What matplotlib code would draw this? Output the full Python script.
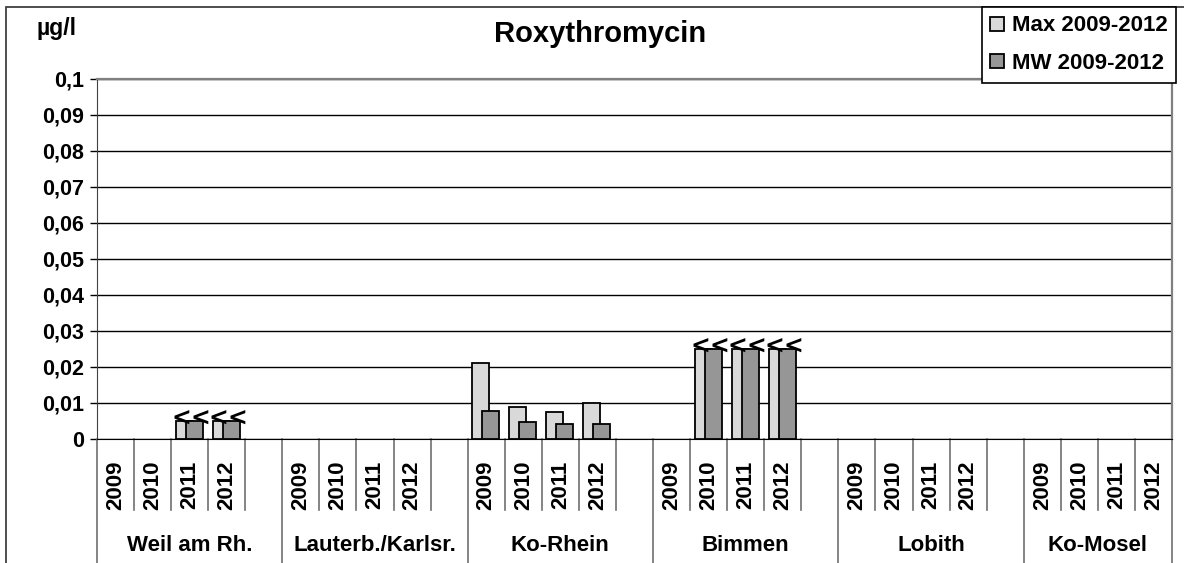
import numpy as np
import matplotlib
matplotlib.use("Agg")
import matplotlib.pyplot as plt
from matplotlib.patches import Rectangle

plt.rcParams['font.family'] = ['Liberation Sans', 'DejaVu Sans']
plt.rcParams['font.weight'] = 'bold'

nan = np.nan

# Daten
title = "Roxythromycin"
unit = "µg/l"
groups = ["Weil am Rh.", "Lauterb./Karlsr.", "Ko-Rhein", "Bimmen", "Lobith", "Ko-Mosel"]
years = ["2009", "2010", "2011", "2012"]
series_names = ["Max 2009-2012", "MW 2009-2012"]

max_vals = [
    [nan, nan, 0.005, 0.005],
    [nan, nan, nan, nan],
    [0.0210, 0.0090, 0.0074, 0.0101],
    [nan, 0.025, 0.025, 0.025],
    [nan, nan, nan, nan],
    [nan, nan, nan, nan],
]
mw_vals = [
    [nan, nan, 0.005, 0.005],
    [nan, nan, nan, nan],
    [0.0078, 0.0048, 0.0043, 0.0043],
    [nan, 0.025, 0.025, 0.025],
    [nan, nan, nan, nan],
    [nan, nan, nan, nan],
]
# "<" = kleiner Bestimmungsgrenze
below_lod = [
    [False, False, True, True],
    [False, False, False, False],
    [False, False, False, False],
    [False, True, True, True],
    [False, False, False, False],
    [False, False, False, False],
]
y_ticks = [0, 0.01, 0.02, 0.03, 0.04, 0.05, 0.06, 0.07, 0.08, 0.09, 0.1]
y_labels = ["0", "0,01", "0,02", "0,03", "0,04", "0,05", "0,06", "0,07", "0,08", "0,09", "0,1"]

W, H = 1184, 563
fig = plt.figure(figsize=(W / 100, H / 100), dpi=100)
ax = fig.add_axes([97 / W, (H - 439) / H, 1075 / W, 360 / H])

# 5 Plaetze pro Messstelle (4 Jahre + Luecke), letzte ohne Luecke
slot = []
for g in range(len(groups)):
    for k in range(len(years)):
        slot.append(g * 5 + k)
slot = np.array(slot)
n_slots = 5 * (len(groups) - 1) + len(years)

mx = np.array(max_vals).ravel()
mw = np.array(mw_vals).ravel()
lod = np.array(below_lod).ravel()

bw = 0.46
b1 = ax.bar(slot + 0.12, mx, width=bw, align='edge', color='#d9d9d9',
            edgecolor='black', linewidth=1.3, label=series_names[0], zorder=3)
b2 = ax.bar(slot + 0.39, mw, width=bw, align='edge', color='#969696',
            edgecolor='black', linewidth=1.3, label=series_names[1], zorder=4)

for i in range(len(slot)):
    if lod[i]:
        ax.text(slot[i] + 0.27, mx[i] - 0.0012, "<", ha='center', va='baseline',
                fontsize=17, fontweight='bold', family='DejaVu Sans', zorder=5)
        ax.text(slot[i] + 0.78, mw[i] - 0.0012, "<", ha='center', va='baseline',
                fontsize=17, fontweight='bold', family='DejaVu Sans', zorder=5)

ax.set_xlim(0, n_slots)
ax.set_ylim(0, 0.1)
ax.set_yticks(y_ticks)
ax.set_yticklabels(y_labels, fontsize=15.5, fontweight='bold')
ax.tick_params(axis='y', direction='out', length=5, width=1, pad=4.5, colors='black')
ax.set_xticks([])
ax.yaxis.grid(True, color='black', linewidth=1)
ax.set_axisbelow(True)

for s in ['top', 'right']:
    ax.spines[s].set_color('#808080')
    ax.spines[s].set_linewidth(1.6)
ax.spines['left'].set_color('#404040')
ax.spines['bottom'].set_color('black')

# Kategorie-Achse mit zwei Ebenen
trans = ax.get_xaxis_transform()
group_edges = [g * 5 for g in range(len(groups))] + [n_slots]
for b in range(n_slots + 1):
    y_end = -0.36 if b in group_edges else -0.197
    ax.plot([b, b], [0, y_end], color='#707070', linewidth=1.2, transform=trans, clip_on=False)

for i in range(len(slot)):
    ax.text(slot[i] + 0.5, -0.128, years[i % len(years)], transform=trans, rotation=90,
            ha='center', va='center', fontsize=16, fontweight='bold')

for g, name in enumerate(groups):
    mid = (group_edges[g] + group_edges[g + 1]) / 2
    ax.text(mid, -0.311, name, transform=trans, ha='center', va='baseline',
            fontsize=16, fontweight='bold')

# Rahmen des Diagramms
fig.patches.append(Rectangle((6 / W, -0.1), 1.2, 1 - 7 / H + 0.1, transform=fig.transFigure,
                             fill=False, edgecolor='#404040', linewidth=1.3))

fig.text(600 / W, 1 - 42 / H, title, ha='center', va='baseline', fontsize=21, fontweight='bold')
fig.text(56 / W, 1 - 35 / H, unit, ha='center', va='baseline', fontsize=16.5, fontweight='bold')

leg = fig.legend(handles=[b1, b2], loc='upper left', bbox_to_anchor=(982 / W, 1 - 7 / H),
                 borderaxespad=0, fontsize=16, handlelength=0.6, handleheight=0.6,
                 handletextpad=0.35, borderpad=0.38, labelspacing=0.75,
                 fancybox=False, framealpha=1, edgecolor='black')
leg.get_frame().set_linewidth(1.2)
leg.set_zorder(10)

fig.savefig("out.png", dpi=100)
